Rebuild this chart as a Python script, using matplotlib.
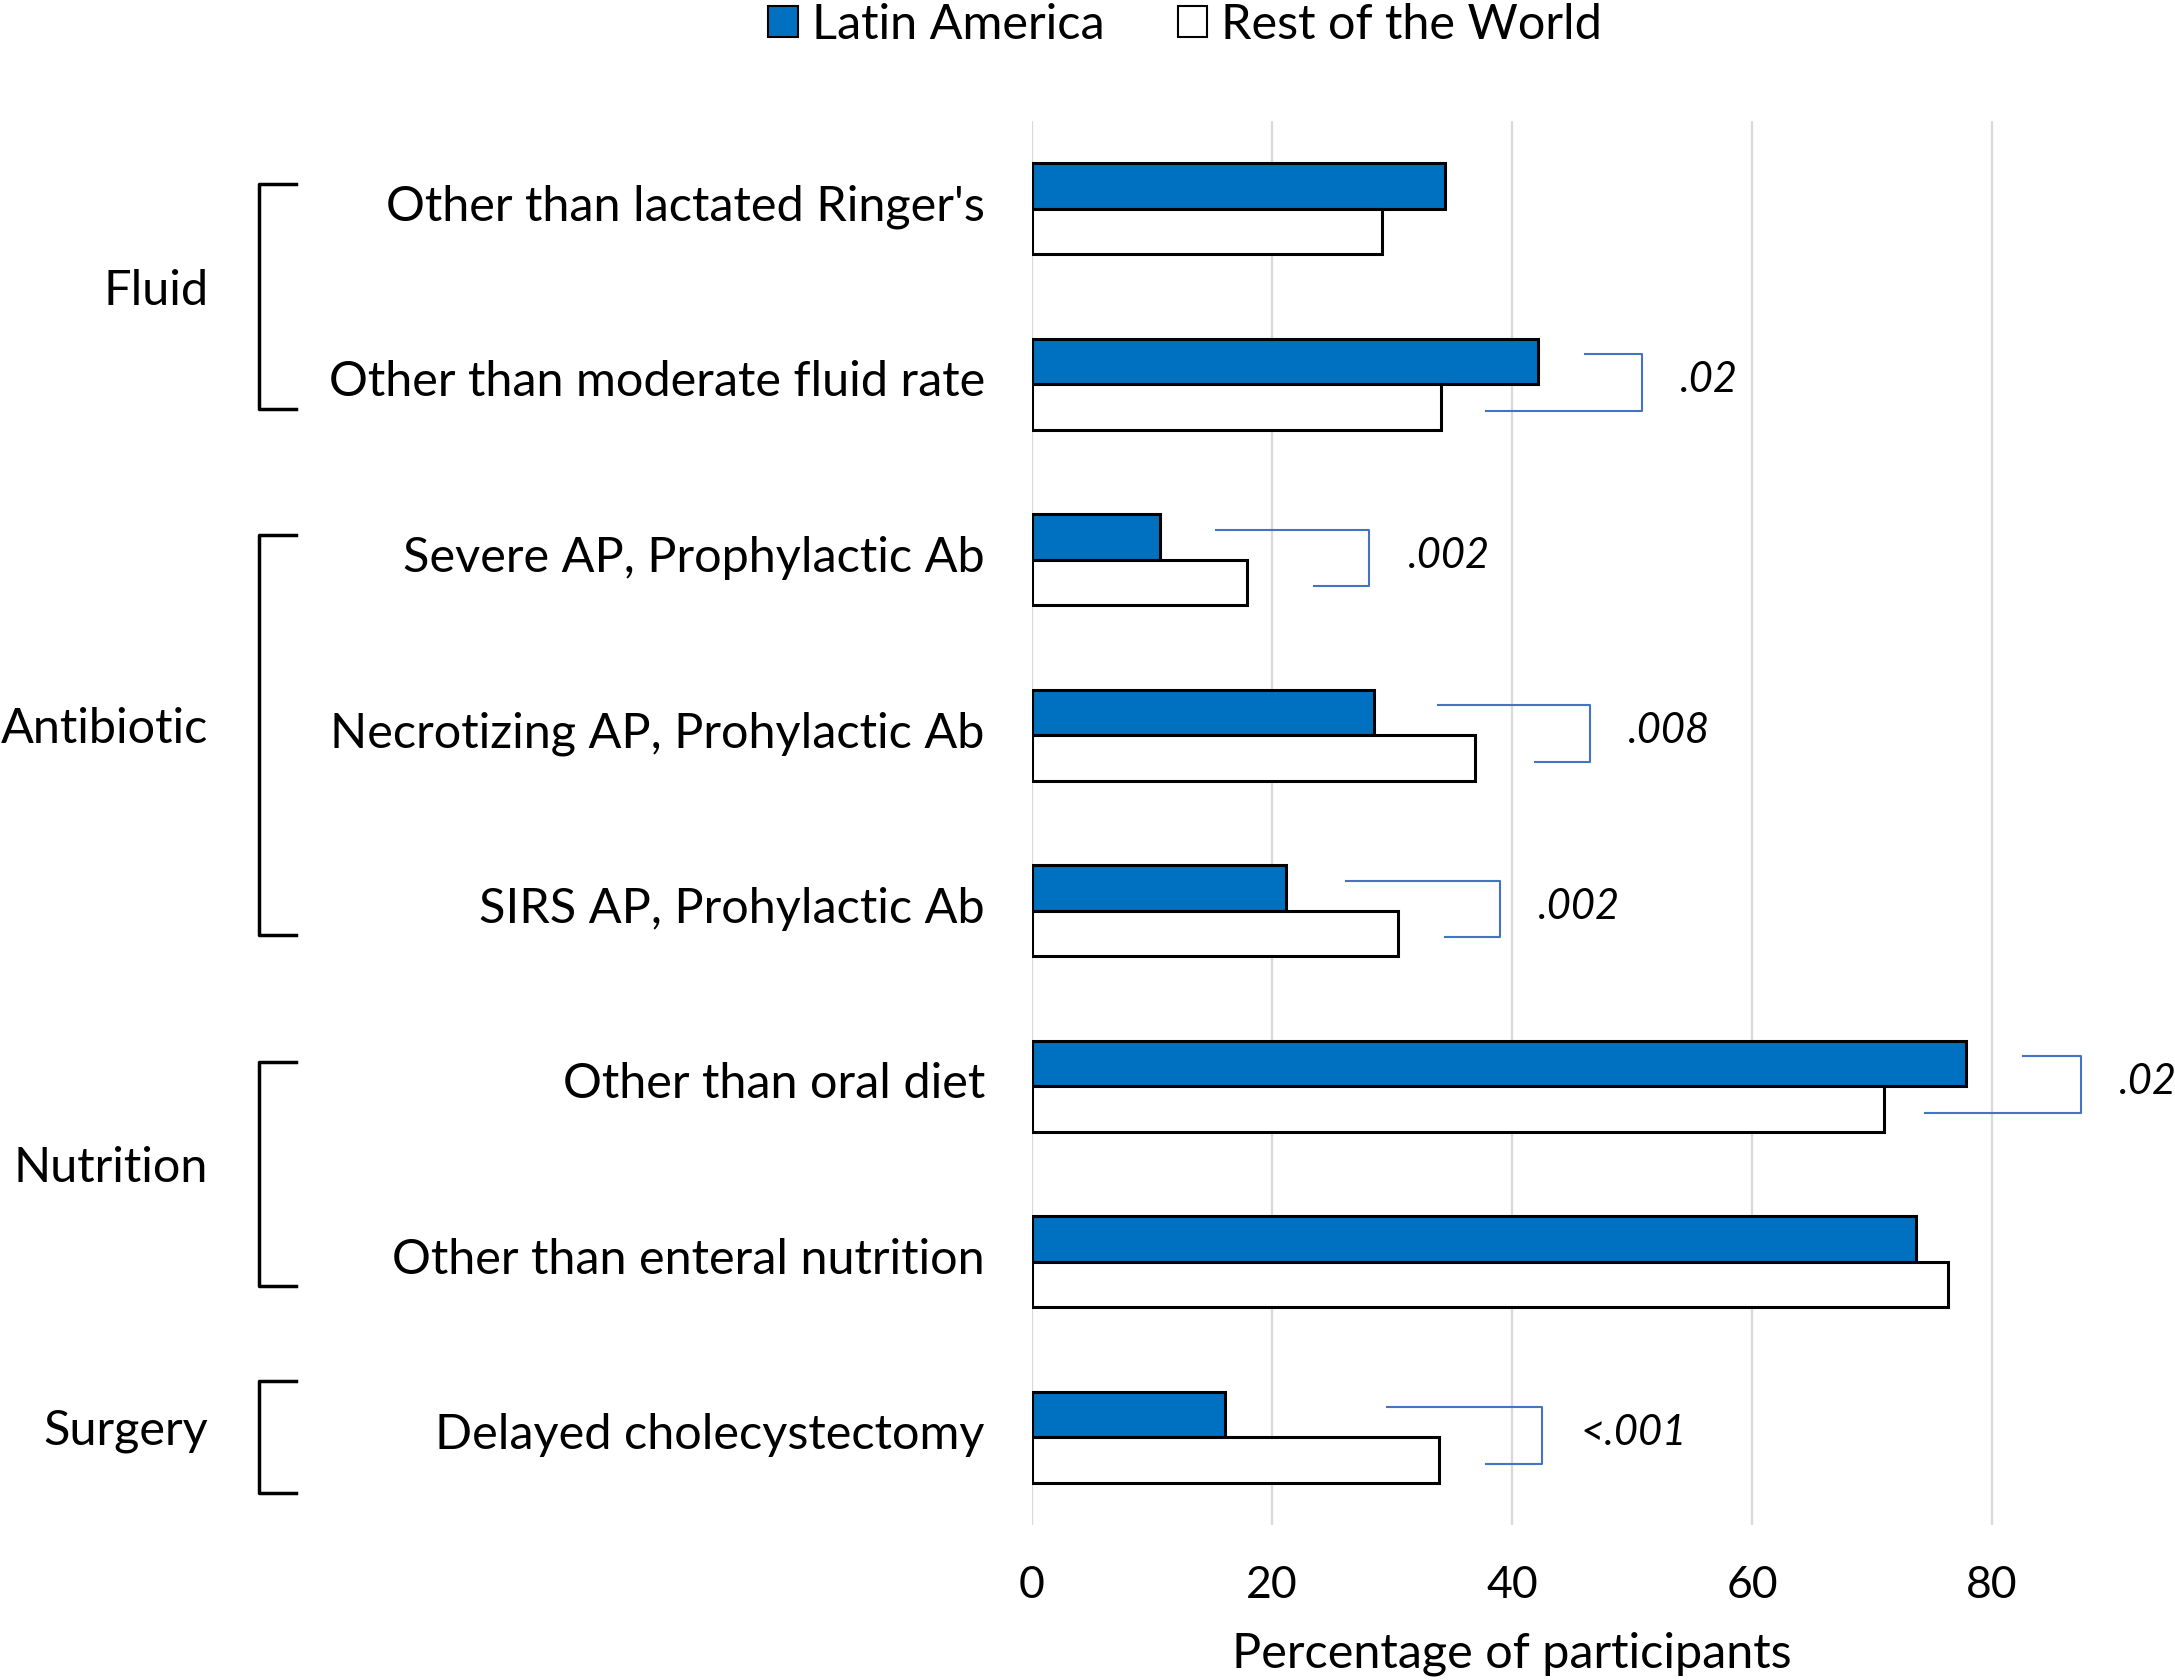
import matplotlib.pyplot as plt
from matplotlib.patches import Patch
from matplotlib.transforms import blended_transform_factory, ScaledTranslation

plt.rcParams['font.family'] = ['Lato', 'DejaVu Sans']

categories = ["Other than lactated Ringer's", "Other than moderate fluid rate",
              "Severe AP, Prophylactic Ab", "Necrotizing AP, Prohylactic Ab",
              "SIRS AP, Prohylactic Ab", "Other than oral diet",
              "Other than enteral nutrition", "Delayed cholecystectomy"]
latin_america = [34.4, 42.2, 10.7, 28.5, 21.2, 77.8, 73.7, 16.1]
rest_of_world = [29.2, 34.1, 17.9, 36.9, 30.5, 71.0, 76.3, 33.9]

groups = ["Fluid", "Antibiotic", "Nutrition", "Surgery"]
group_rows = [(0, 1), (2, 4), (5, 6), (7, 7)]

# p-value brackets: row, label, start of upper arm, start of lower arm, right edge
p_rows = [1, 2, 3, 4, 5, 7]
p_labels = [".02", ".002", ".008", ".002", ".02", "<.001"]
p_top_start = [46.1, 15.3, 33.8, 26.2, 82.6, 29.6]
p_bot_start = [37.8, 23.5, 41.9, 34.4, 74.4, 37.8]
p_right = [50.8, 28.1, 46.5, 39.0, 87.4, 42.5]

blue = '#0070C0'
fig = plt.figure(figsize=(21.75, 16.81), dpi=100)
ax = fig.add_axes([0.4745, 0.0922, 0.4965, 0.8352])

y = list(range(len(categories)))
h = 0.26
ax.barh([v - h / 2 for v in y], latin_america, height=h, color=blue,
        edgecolor='black', linewidth=2.2, zorder=3)
ax.barh([v + h / 2 for v in y], rest_of_world, height=h, color='white',
        edgecolor='black', linewidth=2.2, zorder=3)

ax.set_xlim(0, 90)
ax.set_ylim(len(categories) - 0.5, -0.5)
ax.set_xticks([0, 20, 40, 60, 80])
ax.set_yticks(y)
ax.set_yticklabels(categories, fontsize=35)
ax.tick_params(axis='y', length=0, pad=34)
ax.tick_params(axis='x', length=0, pad=28, labelsize=32)
ax.grid(axis='x', color='#D9D9D9', linewidth=1.6, zorder=0)
for s in ax.spines.values():
    s.set_visible(False)
ax.set_xlabel('Percentage of participants', fontsize=35)
ax.xaxis.set_label_coords(40 / 90, -0.075)

# nudge text up a little, like the original
up = ScaledTranslation(0, 5 / 72, fig.dpi_scale_trans)
for lab in ax.get_yticklabels():
    lab.set_transform(lab.get_transform() + up)

# p-value brackets
for r, lab, t0, b0, xr in zip(p_rows, p_labels, p_top_start, p_bot_start, p_right):
    yt, yb = r - 0.17, r + 0.15
    ax.plot([t0, xr, xr, b0], [yt, yt, yb, yb], color='#4472C4',
            linewidth=1.5, clip_on=False, zorder=4)
    ax.text(xr + 3.2, r - 0.03, lab, fontsize=30, style='italic',
            va='center', ha='left', clip_on=False)

# group brackets on the left
tr = blended_transform_factory(fig.transFigure, ax.transData)
for g, (r0, r1) in zip(groups, group_rows):
    pad = 0.14 if r1 > r0 else 0.32
    top, bot = r0 - pad, r1 + pad
    ax.plot([0.136, 0.119, 0.119, 0.136], [top, top, bot, bot], color='black',
            linewidth=2.5, transform=tr, clip_on=False)
    ax.text(0.0957, (r0 + r1) / 2, g, fontsize=35, ha='right', va='center',
            transform=tr + up)

handles = [Patch(facecolor=blue, edgecolor='black', linewidth=1.5),
           Patch(facecolor='white', edgecolor='black', linewidth=1.5)]
fig.legend(handles, ['Latin America', 'Rest of the World'], loc='center',
           bbox_to_anchor=(0.545, 0.985), ncol=2, frameon=False, fontsize=35,
           handlelength=0.6, handleheight=0.6, handletextpad=0.3,
           columnspacing=1.5)

fig.savefig('out.png')
